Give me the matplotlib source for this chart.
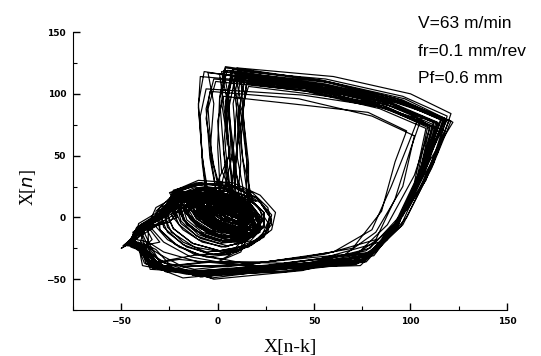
import numpy as np
import matplotlib
matplotlib.use("Agg")
import matplotlib.pyplot as plt
from matplotlib.ticker import MultipleLocator

# measured signal X[n] (one big excursion per row), embedding lag k
lag = 3
signal = [
    0, 10, 16, 12, 2, -8, -12, -6, 6, 4, 8,
    50, 90, 115, 107, 92, 76, 38, -8, -32, -40, -48, -38, -22, -22, -8, 8, 18, 22, 16, 4, -8, -18, -24, -20, -10, 2, 12, 16, 14, 6, -4, -12, -15, -10, -2, 6, 10, 8, 6, 4, 8,
    55, 94, 120, 110, 94, 78, 42, -2, -30, -42, -36, -40, -20, -24, -10, 6, 20, 26, 22, 10, -4, -18, -28, -30, -22, -8, 6, 16, 20, 16, 6, -6, -14, -18, -12, -2, 8, 12, 6, -2, -6, -4,
    42, 80, 102, 96, 82, 66, 25, -12, -30, -36, -42, -36, -20, -18, -4, 8, 14, 16, 12, 4, -4, -8, -6, 2, 10, 16, 18, 14, 6, -2, -6, -4, 4, 12, 16, 14, 8, 2, 0, 4, 10, 12, 10, 8,
    45, 86, 110, 104, 90, 74, 30, -14, -35, -38, -44, -42, -25, -20, -10, -4, 6, 14, 12, 2, -12, -26, -34, -30, -18, -4, 8, 16, 14, 4, -8, -14, -12, -4, 6, 14, 16, 12, 14, 10,
    60, 100, 121, 114, 100, 84, 52, 10, -20, -34, -42, -44, -30, -26, -12, 2, 12, 16, 14, 8, 0, -6, -8, -2, 6, 14, 18, 16, 10, 2, -4, -4, 2, 10, 14, 12, 6, 10, 8, 11,
    52, 92, 117, 108, 93, 80, 40, -5, -28, -36, -46, -40, -24, -23, -9, 10, 22, 28, 24, 12, -2, -16, -26, -30, -24, -12, 2, 14, 22, 24, 18, 6, -6, -16, -20, -16, -6, 6, 14, 12, 2, 0, 3,
    38, 78, 98, 92, 85, 70, 45, 5, -25, -32, -40, -38, -26, -20, -8, 4, 12, 14, 10, 2, -6, -10, -8, 0, 8, 14, 15, 10, 2, -4, -6, -2, 6, 12, 12, 6, 0, -2, 2, -4, -6, -2,
    48, 88, 112, 105, 91, 77, 35, -12, -36, -44, -47, -35, -18, -21, -6, 10, 20, 22, 14, 2, -10, -20, -24, -18, -6, 8, 18, 20, 12, 0, -10, -16, -14, -6, 4, 10, 6, -4, -8, -10, -7,
    50, 92, 118, 104, 86, 70, 20, -20, -36, -40, -34, -38, -26, -18, -6, 6, 14, 18, 14, 6, -2, -8, -8, -2, 6, 12, 16, 14, 8, 2, -2, 0, 6, 12, 14, 10, 4, 0, 2, 8, 12, 8, 5, 7,
    58, 96, 118, 109, 95, 79, 46, 2, -25, -38, -45, -43, -28, -24, -12, 4, 18, 26, 28, 20, 8, -6, -18, -26, -28, -20, -8, 6, 16, 22, 18, 8, -4, -12, -14, -8, 4, 14, 18, 15, 15, 12, 16,
    47, 86, 106, 100, 92, 82, 55, 15, -18, -30, -38, -40, -30, -22, -10, 2, 12, 18, 16, 8, -2, -10, -12, -6, 4, 12, 16, 12, 4, -4, -8, -6, 2, 10, 14, 10, 2, -2, 0, 6, 9, 13, 15,
    46, 84, 108, 102, 88, 72, 28, -18, -38, -42, -49, -37, -21, -23, -7, 9, 17, 19, 13, 1, -11, -19, -21, -15, -3, 9, 15, 15, 9, -1, -9, -13, -9, -1, 7, 9, 6, 2, 4,
    54, 93, 121, 111, 96, 78, 40, -6, -33, -41, -46, -39, -23, -22, -10, 8, 22, 30, 28, 18, 4, -10, -22, -30, -30, -22, -10, 4, 16, 24, 24, 16, 4, -8, -16, -18, -12, -2, 8, 14, 12, 8, 10, 12, 9,
    53, 94, 116, 108, 90, 68, 30, -10, -34, -42, -30, -37, -24, -20, -6, 6, 14, 16, 12, 4, -4, -8, -6, 0, 8, 14, 16, 12, 6, 0, -4, -2, 4, 10, 12, 8, 2, -2, -8, -10, -9,
    49, 89, 114, 106, 92, 76, 36, -10, -34, -39, -43, -41, -26, -19, -5, 9, 17, 19, 13, 3, -9, -17, -19, -13, -3, 7, 13, 13, 7, -3, -11, -13, -9, -1, 5, 6, -4, -8, -9, -6,
    44, 82, 104, 99, 90, 80, 60, 25, -10, -28, -36, -36, -28, -20, -8, 4, 14, 20, 18, 10, 0, -8, -10, -4, 4, 12, 16, 14, 8, 0, -4, -2, 4, 10, 12, 8, 4, 6, 3,
    56, 95, 119, 108, 94, 79, 44, -2, -29, -43, -50, -36, -19, -25, -11, 6, 20, 28, 26, 16, 2, -12, -24, -28, -24, -12, 2, 16, 24, 24, 16, 4, -8, -16, -16, -8, 4, 14, 18, 13, 11, 14,
    47, 87, 111, 104, 90, 73, 32, -14, -37, -40, -45, -38, -24, -20, -7, 7, 15, 17, 11, 1, -9, -15, -15, -9, 1, 11, 15, 13, 5, -5, -11, -11, -5, 3, 9, 6, 3, 1, 5,
    56, 96, 119, 112, 98, 82, 44, 0, -28, -38, -46, -42, -26, -22, -8, 8, 18, 22, 18, 8, -2, -10, -12, -6, 4, 12, 16, 14, 6, -2, -6, -4, 4, 12, 14, 10, 4, 2, 8, 10, 12,
    53, 91, 116, 107, 94, 81, 41, -4, -31, -39, -47, -42, -22, -23, -9, 8, 21, 27, 25, 15, 1, -13, -23, -27, -21, -9, 5, 17, 23, 21, 11, -1, -11, -17, -15, -7, 5, 15, 19, 14, 7, 6, 9,
    51, 90, 113, 106, 92, 76, 37, -9, -35, -43, -48, -37, -20, -22, -8, 9, 19, 23, 17, 5, -9, -19, -23, -17, -5, 9, 17, 19, 11, -1, -11, -15, -11, -1, 9, 11, 4, -3, -5, -1,
    48, 88, 110, 102, 88, 72, 34, -6, -30, -37, -36, -40, -23, -19, -6, 8, 16, 18, 12, 2, -6, -10, -6, 2, 10, 14, 14, 8, 0, -4, -2, 4, 10, 12, 8, 2, 0, 1, 4,
    57, 97, 122, 110, 96, 77, 46, 1, -27, -37, -44, -44, -27, -24, -14, -2, 10, 16, 12, 0, -14, -28, -36, -32, -20, -6, 8, 18, 22, 18, 8, -4, -14, -14, -6, 6, 16, 20, 16, 16, 13, 15,
    44, 85, 109, 103, 89, 74, 29, -16, -39, -41, -46, -39, -23, -21, -7, 8, 18, 20, 14, 2, -10, -18, -20, -14, -2, 10, 16, 14, 6, -4, -10, -10, -2, 6, 8, 3, 5, 2,
    55, 94, 118, 107, 94, 80, 43, -3, -30, -40, -49, -40, -21, -23, -12, 0, 8, 12, 6, -6, -20, -30, -32, -24, -10, 5, 17, 23, 19, 9, -3, -13, -17, -13, -3, 9, 17, 15, 10, 11, 8,
    50, 88, 112, 105, 91, 75, 34, -11, -36, -42, -45, -36, -25, -21, -8, 7, 17, 19, 13, 3, -9, -17, -19, -13, -3, 7, 13, 11, 3, -5, -9, -7, 0, 2, -4, -2, -5,
    53, 92, 117, 108, 95, 78, 39, -7, -32, -38, -47, -41, -22, -22, -8, 9, 21, 27, 25, 15, 1, -13, -23, -27, -21, -9, 5, 17, 23, 21, 11, -1, -11, -15, -9, 3, 13, 17, 15, 13, 12,
    48, 89, 114, 104, 93, 76, 35, -9, -34, -41, -48, -38, -20, -22, -6, 10, 18, 18, 10, -2, -14, -20, -18, -8, 4, 14, 18, 14, 4, -6, -12, -10, -2, 6, 3, 1,
    52, 93, 116, 106, 94, 79, 40, -5, -31, -40, -46, -40, -24, -22, -8, 10, 20, 22, 14, 0, -12, -18, -14, -4, 6, 10, 8, 5, 7,
    51, 90, 114, 106, 93, 77, 38, -6, -31, -39, -47, -39, -22, -21, -8, 8, 18, 20, 14, 2, -8, -12, -8, 2, 10, 14, 12, 6,
]

x_ticks = [-50, 0, 50, 100, 150]
y_ticks = [-50, 0, 50, 100, 150]
notes = ["V=63 m/min", "fr=0.1 mm/rev", "Pf=0.6 mm"]

s = np.array(signal, dtype=float)

fig = plt.figure(figsize=(5.41, 3.56), dpi=100)
ax = fig.add_axes([0.135, 0.129, 0.802, 0.781])

ax.plot(s[:-lag], s[lag:], color="black", lw=0.85)

ax.set_xlim(-75, 150)
ax.set_ylim(-75, 150)
ax.spines["top"].set_visible(False)
ax.spines["right"].set_visible(False)
ax.set_xticks(x_ticks)
ax.set_yticks(y_ticks)
ax.xaxis.set_minor_locator(MultipleLocator(25))
ax.yaxis.set_minor_locator(MultipleLocator(25))
ax.tick_params(which="major", direction="in", length=5, width=1, labelsize=6.5, pad=5)
ax.tick_params(which="minor", direction="in", length=3, width=0.8)
for lab in ax.get_xticklabels() + ax.get_yticklabels():
    lab.set_fontweight("bold")

ax.set_xlabel("X[n-k]", fontname="Liberation Serif", fontsize=14, labelpad=9)
ax.set_ylabel("X[$\\it{n}$]", fontname="Liberation Serif", fontsize=13)
ax.yaxis.set_label_coords(-0.08, 0.44)

for i, t in enumerate(notes):
    fig.text(0.772, 1 - (28 + 27.5 * i) / 356, t, fontname="Liberation Sans",
             fontsize=12.5, va="baseline", ha="left")

fig.savefig("out.png", dpi=100)
